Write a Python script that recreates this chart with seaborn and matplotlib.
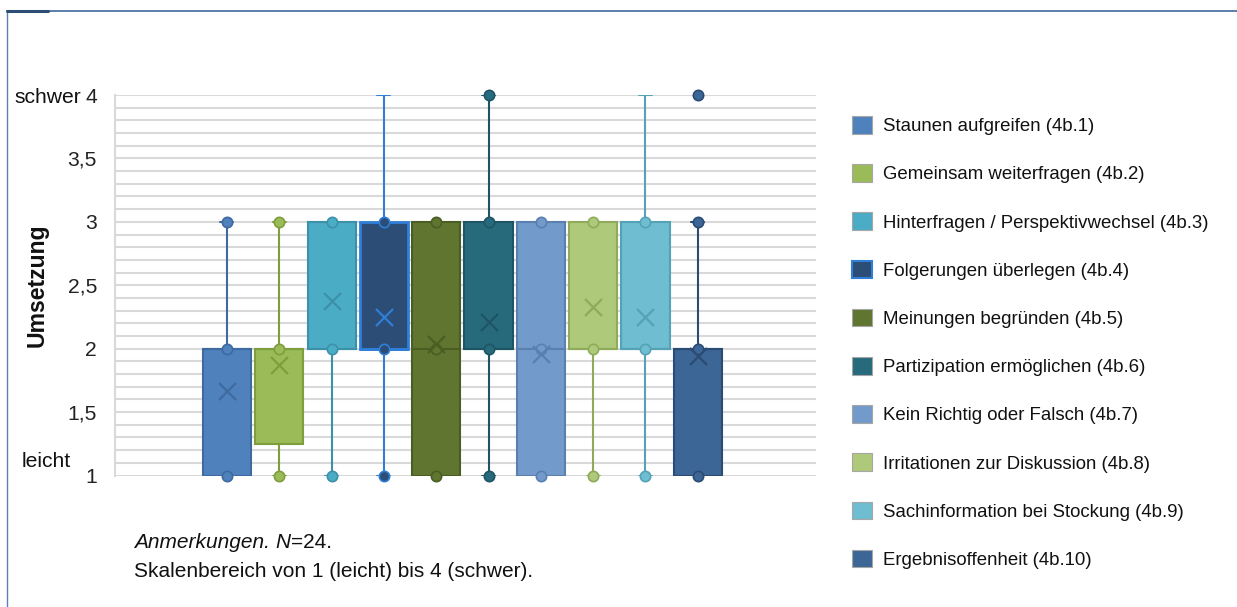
import matplotlib
matplotlib.use("Agg")
import matplotlib.pyplot as plt
import seaborn as sns
import pandas as pd
from matplotlib.patches import Patch
from matplotlib.lines import Line2D
from matplotlib.ticker import MultipleLocator, FuncFormatter

# ---- data -------------------------------------------------------------
items = [
    "Staunen aufgreifen (4b.1)",
    "Gemeinsam weiterfragen (4b.2)",
    "Hinterfragen / Perspektivwechsel (4b.3)",
    "Folgerungen überlegen (4b.4)",
    "Meinungen begründen (4b.5)",
    "Partizipation ermöglichen (4b.6)",
    "Kein Richtig oder Falsch (4b.7)",
    "Irritationen zur Diskussion (4b.8)",
    "Sachinformation bei Stockung (4b.9)",
    "Ergebnisoffenheit (4b.10)",
]
q1 = [1, 1.25, 2, 2, 1, 2, 1, 2, 2, 1]
median = [2, 2, 2, 2, 2, 2, 2, 2, 2, 2]
q3 = [2, 2, 3, 3, 3, 3, 3, 3, 3, 2]
whisker_low = [1, 1, 1, 1, 1, 1, 1, 1, 1, 1]
whisker_high = [3, 3, 3, 4, 3, 4, 3, 3, 4, 3]
means = [1.67, 1.875, 2.375, 2.25, 2.04, 2.21, 1.96, 2.33, 2.25, 1.94]
inner_points = [
    [1, 2, 3], [1, 2, 3], [1, 2, 3], [1, 2, 3], [1, 2, 3],
    [1, 2, 3, 4], [1, 2, 3], [1, 2, 3], [1, 2, 3], [1, 2, 3],
]
outliers = [[], [], [], [], [], [], [], [], [], [4]]

y_ticks = [1, 1.5, 2, 2.5, 3, 3.5, 4]

face_colors = ["#4F81BD", "#9BBB59", "#4BACC6", "#2C4D75", "#5F7530",
               "#276A7C", "#729ACA", "#AFC97A", "#6FBDD1", "#3C6696"]
edge_colors = ["#3E6AA0", "#7E9E3E", "#3C91A8", "#2F7ED8", "#4A5E24",
               "#1E5564", "#5A80B0", "#8FAA5A", "#55A2B6", "#2A4B73"]

# ---- style ------------------------------------------------------------
sns.set_theme(style="white")
plt.rcParams["font.family"] = ["Liberation Sans", "DejaVu Sans"]

W, H = 1237, 607
fig = plt.figure(figsize=(W / 100, H / 100), dpi=100)
ax_left, ax_right, ax_top, ax_bottom = 115, 816, 95, 475.5
ax = fig.add_axes([ax_left / W, 1 - ax_bottom / H,
                   (ax_right - ax_left) / W, (ax_bottom - ax_top) / H])

positions = list(range(len(items)))

# ---- boxes ------------------------------------------------------------
stats = []
for i, name in enumerate(items):
    stats.append(dict(label=name, q1=q1[i], med=median[i], q3=q3[i],
                      whislo=whisker_low[i], whishi=whisker_high[i],
                      mean=means[i], fliers=[]))

parts = ax.bxp(stats, positions=positions, widths=0.92, capwidths=0.25,
               patch_artist=True, showfliers=False, showmeans=False,
               manage_ticks=False)
for i in range(len(items)):
    lw = 2.0 if i == 3 else 1.5
    box = parts["boxes"][i]
    box.set_facecolor(face_colors[i])
    box.set_edgecolor(edge_colors[i])
    box.set_linewidth(lw)
    box.set_zorder(3)
    parts["medians"][i].set_color(edge_colors[i])
    parts["medians"][i].set_linewidth(lw)
    parts["medians"][i].set_zorder(3.5)
    for k in (2 * i, 2 * i + 1):
        parts["whiskers"][k].set_color(edge_colors[i])
        parts["whiskers"][k].set_linewidth(1.5)
        parts["whiskers"][k].set_zorder(2)
        parts["caps"][k].set_color(edge_colors[i])
        parts["caps"][k].set_linewidth(1.5)
        parts["caps"][k].set_zorder(2)

# ---- inner points, outliers and means ---------------------------------
rows = []
for i in range(len(items)):
    for v in inner_points[i]:
        rows.append(dict(pos=positions[i], value=v, item=items[i]))
    for v in outliers[i]:
        rows.append(dict(pos=positions[i], value=v, item=items[i]))
points = pd.DataFrame(rows)

for i, name in enumerate(items):
    sub = points[points["item"] == name]
    sns.scatterplot(x=sub["pos"], y=sub["value"], ax=ax, color=face_colors[i],
                    edgecolor=edge_colors[i], linewidth=1.2, s=55,
                    zorder=4, clip_on=False, legend=False)
    sns.scatterplot(x=[positions[i]], y=[means[i]], ax=ax, marker="x",
                    color=edge_colors[i], s=150, linewidth=1.6,
                    zorder=5, legend=False)

# ---- axes -------------------------------------------------------------
ax.set_xlim(-2.14, 11.26)
ax.set_ylim(1, 4)
ax.set_xticks([])
ax.set_xlabel("")
ax.set_ylabel("")
ax.yaxis.set_major_locator(MultipleLocator(0.5))
ax.yaxis.set_minor_locator(MultipleLocator(0.1))
ax.yaxis.set_major_formatter(FuncFormatter(lambda v, _: f"{v:g}".replace(".", ",")))
ax.set_yticks(y_ticks)
ax.tick_params(axis="y", which="both", length=0, pad=13, labelsize=15.2,
               labelcolor="#222222")
ax.set_axisbelow(True)
ax.grid(which="both", axis="y", color="#D9D9D9", linewidth=1.5)
ax.grid(axis="x", visible=False)
for side in ("top", "right", "bottom"):
    ax.spines[side].set_visible(False)
ax.spines["left"].set_color("#D9D9D9")
ax.spines["left"].set_linewidth(1.5)

# ---- labels -----------------------------------------------------------
fig.text(37.5 / W, 1 - 285 / H, "Umsetzung", rotation=90, ha="center",
         va="center", fontsize=16.6, fontweight="bold", color="#111111")
fig.text(81 / W, 1 - 103 / H, "schwer", ha="right", va="baseline",
         fontsize=15.2, color="#111111")
fig.text(22 / W, 1 - 467 / H, "leicht", ha="left", va="baseline",
         fontsize=15.2, color="#111111")

note_size = 15
t1 = fig.text(134 / W, 1 - 548 / H, "Anmerkungen. ", style="italic",
              fontsize=note_size, va="baseline", color="#111111")
t2 = ax.annotate("N", xy=(1, 0), xycoords=t1, va="bottom", style="italic",
                 fontsize=note_size, color="#111111", annotation_clip=False)
t3 = ax.annotate("=24.", xy=(1, 0), xycoords=t2, va="bottom",
                 fontsize=note_size, color="#111111", annotation_clip=False)
fig.text(134 / W, 1 - 577 / H, "Skalenbereich von 1 (leicht) bis 4 (schwer).",
         fontsize=note_size, va="baseline", color="#111111")

# ---- legend -----------------------------------------------------------
handles = [Patch(facecolor=face_colors[i],
                 edgecolor=edge_colors[i] if i == 3 else "#A6A6A6",
                 linewidth=1.5 if i == 3 else 0.8)
           for i in range(len(items))]
leg_fs = 13.45
ax.legend(handles, items, loc="upper left",
          bbox_to_anchor=(852 / W, 1 - 116 / H), bbox_transform=fig.transFigure,
          frameon=False, fontsize=leg_fs, handlelength=1.07, handleheight=1.07,
          handletextpad=0.59, labelspacing=1.555, borderpad=0, borderaxespad=0,
          labelcolor="#111111")

# ---- outer frame ------------------------------------------------------
fig.add_artist(Line2D([7 / W, 1], [1 - 11 / H, 1 - 11 / H],
                      color="#41679E", linewidth=1.2))
fig.add_artist(Line2D([7 / W, 7 / W], [1 - 11 / H, 0],
                      color="#5B80B8", linewidth=1.0))
fig.add_artist(Line2D([7 / W, 48 / W], [1 - 11 / H, 1 - 11 / H],
                      color="#2C4D75", linewidth=2.2))

fig.savefig("out.png", dpi=100, facecolor="white")
